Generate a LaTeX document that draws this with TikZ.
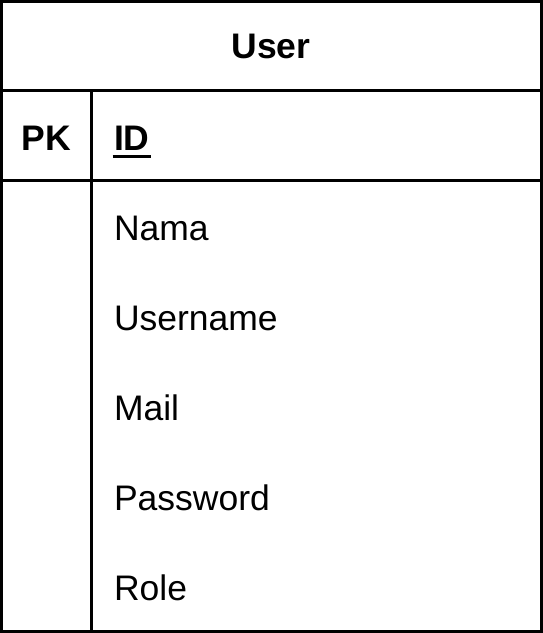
\documentclass[tikz,border=0pt]{standalone}
\usepackage{fontspec}
\setmainfont{Liberation Sans}
\usepackage{tikz}

\begin{document}
\begin{tikzpicture}[x=1pt,y=-1pt,line width=3pt,
  title node/.style={inner sep=0pt,font=\fontsize{35.5}{40}\selectfont\bfseries,anchor=base},
  key node/.style={inner sep=0pt,font=\fontsize{35.5}{40}\selectfont\bfseries,anchor=base west},
  field node/.style={inner sep=0pt,font=\fontsize{35.5}{40}\selectfont,anchor=base west}]

  \useasboundingbox (0,0) rectangle (543,633);

  % table frame
  \draw (1.5,1.5) rectangle (541.5,631.5);
  \draw (1.5,90.5) -- (541.5,90.5);
  \draw (1.5,180.5) -- (541.5,180.5);
  \draw (91.5,90.5) -- (91.5,631.5);

  \node[title node] (user) at (271,58.5) {User};
  \node[title node] (pk) at (46,150) {PK};
  \node[key node] (id) at (112.5,150) {ID};
  \draw ([yshift=-6.5pt]id.base west) -- ([yshift=-6.5pt]id.base east);

  \node[field node] (nama) at (112.5,240) {Nama};
  \node[field node] (username) at (112.5,330) {Username};
  \node[field node] (mail) at (112.5,420) {Mail};
  \node[field node] (password) at (112.5,510) {Password};
  \node[field node] (role) at (112.5,600) {Role};
\end{tikzpicture}
\end{document}
